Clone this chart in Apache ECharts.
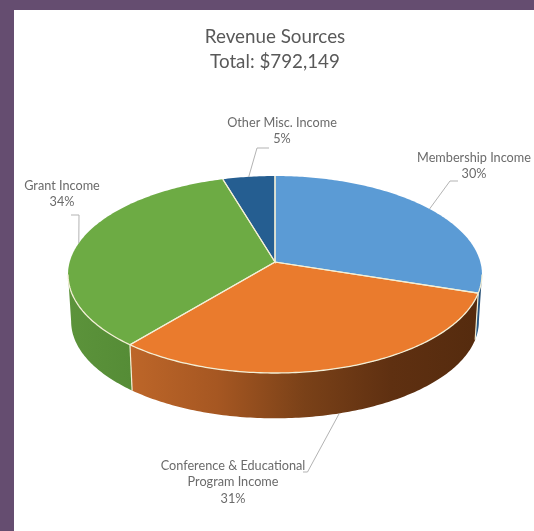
<!DOCTYPE html>
<html><head><meta charset="utf-8">
<style>html,body{margin:0;padding:0;background:#654d70}#c{width:534px;height:531px;filter:blur(.4px)}</style>
<script src="https://cdn.jsdelivr.net/npm/echarts@6/dist/echarts.min.js"></script>
</head><body><div id="c"></div>
<script>
const categories = ['Membership Income', 'Conference & Educational\nProgram Income', 'Grant Income', 'Other Misc. Income'];
const revenue = [237600, 245600, 272500, 36449];
const sliceColors = ['#5b9bd5', '#ea7b2d', '#6dab44', '#255e91'];
const titleLines = ['Revenue Sources', 'Total: $792,149'];

const total = revenue.reduce((a, b) => a + b, 0);
// view of the tilted disc
const V = {cx: 275, cy: 262, A: 205.3, B: 96.9, p: 0.127, drop: 47, shrink: 0.985};
// label centre, then elbow points of the leader (leader starts on the slice itself)
const labelLayout = [
  {x: 474, y: 166, elbow: [[450, 181], [458, 181]]},
  {x: 233, y: 482, elbow: [[307.5, 472], [303, 472]], onWall: true},
  {x: 62, y: 194, elbow: [[79, 215], [71, 215]]},
  {x: 282, y: 131, elbow: [[257, 148], [269, 148]]}
];
const wallFill = [
  ['#2f6596', '#1d4468'],
  ['#bd6629', '#a65722', '#7a4118', '#5f3011', '#552b0e'],
  ['#5c933b', '#558c36'],
  ['#1d4468', '#1d4468']
];
const rimColor = '#f3efd6';
function pt(t, wall) {
  const u = Math.sin(t), v = Math.cos(t), s = 1 / (1 + V.p * v);
  const f = wall ? V.shrink : 1, d = wall ? V.drop : 0;
  return [V.cx + V.A * f * u * s, V.cy + d - V.B * f * v * s];
}
function arc(a, b, wall) {
  const out = [], n = Math.max(2, Math.ceil(Math.abs(b - a) / 0.015));
  for (let i = 0; i <= n; i++) out.push(pt(a + (b - a) * i / n, wall));
  return out;
}
function renderSlice(params, api) {
  const i = params.dataIndex, TAU = Math.PI * 2;
  let before = 0;
  for (let k = 0; k < i; k++) before += revenue[k];
  const val = api.value(0);
  const a = before / total * TAU, b = (before + val) / total * TAU, mid = (a + b) / 2;
  const children = [];
  const edge = Math.asin(V.p);
  const lo = Math.max(a, Math.PI / 2 + edge), hi = Math.min(b, Math.PI * 1.5 - edge);
  if (hi > lo) {
    const stops = wallFill[i];
    const top = arc(lo, hi, false), bot = arc(hi, lo, true);
    children.push({
      type: 'polygon', z2: 1, shape: {points: top.concat(bot)},
      style: {fill: new echarts.graphic.LinearGradient(0, 0, 1, 0,
        stops.map((c, n) => ({offset: n / (stops.length - 1), color: c}))), stroke: null}
    });
    children.push({type: 'polyline', z2: 6, shape: {points: top},
      style: {stroke: rimColor, lineWidth: 1.3, fill: null}});
    if (a >= lo && a <= hi) {
      children.push({type: 'line', z2: 2,
        shape: {x1: pt(a)[0], y1: pt(a)[1], x2: pt(a, true)[0], y2: pt(a, true)[1]},
        style: {stroke: rimColor, lineWidth: 1.2}});
    }
  }
  children.push({
    type: 'polygon', z2: 5,
    shape: {points: [[V.cx, V.cy]].concat(arc(a, b, false))},
    style: {fill: api.visual('color'), stroke: null}
  });
  children.push({type: 'polyline', z2: 6, shape: {points: [pt(a), [V.cx, V.cy], pt(b)]},
    style: {stroke: rimColor, lineWidth: 1.2, fill: null}});
  const L = labelLayout[i];
  const start = pt(mid, !!L.onWall);
  children.push({type: 'polyline', z2: 6, shape: {points: [start].concat(L.elbow)},
    style: {stroke: '#b3b3b3', lineWidth: 1, fill: null}});
  children.push({type: 'text', z2: 7, style: {
    text: api.value(1) + '\n' + Math.round(val / total * 100) + '%',
    x: L.x, y: L.y, align: 'center', verticalAlign: 'middle',
    font: '12.7px Lato', lineHeight: 16.5, fill: '#6b6b6b'}});
  return {type: 'group', children};
}
const chart = echarts.init(document.getElementById('c'), null, {renderer: 'canvas'});
chart.setOption({
  animation: false,
  backgroundColor: '#654d70',
  title: {
    text: titleLines.join('\n'), left: 270, top: 19, textAlign: 'center',
    textStyle: {fontFamily: 'Lato', fontWeight: 'normal', fontSize: 18.8, lineHeight: 25, color: '#595959'}
  },
  graphic: [{type: 'rect', z: -10, shape: {x: 14, y: 10, width: 520, height: 521}, style: {fill: '#ffffff'}}],
  series: [{
    type: 'custom', coordinateSystem: 'none', renderItem: renderSlice,
    encode: {value: 0},
    data: revenue.map((v, i) => ({
      name: categories[i], value: [v, categories[i]],
      itemStyle: {color: sliceColors[i]}
    }))
  }]
});
</script></body></html>
